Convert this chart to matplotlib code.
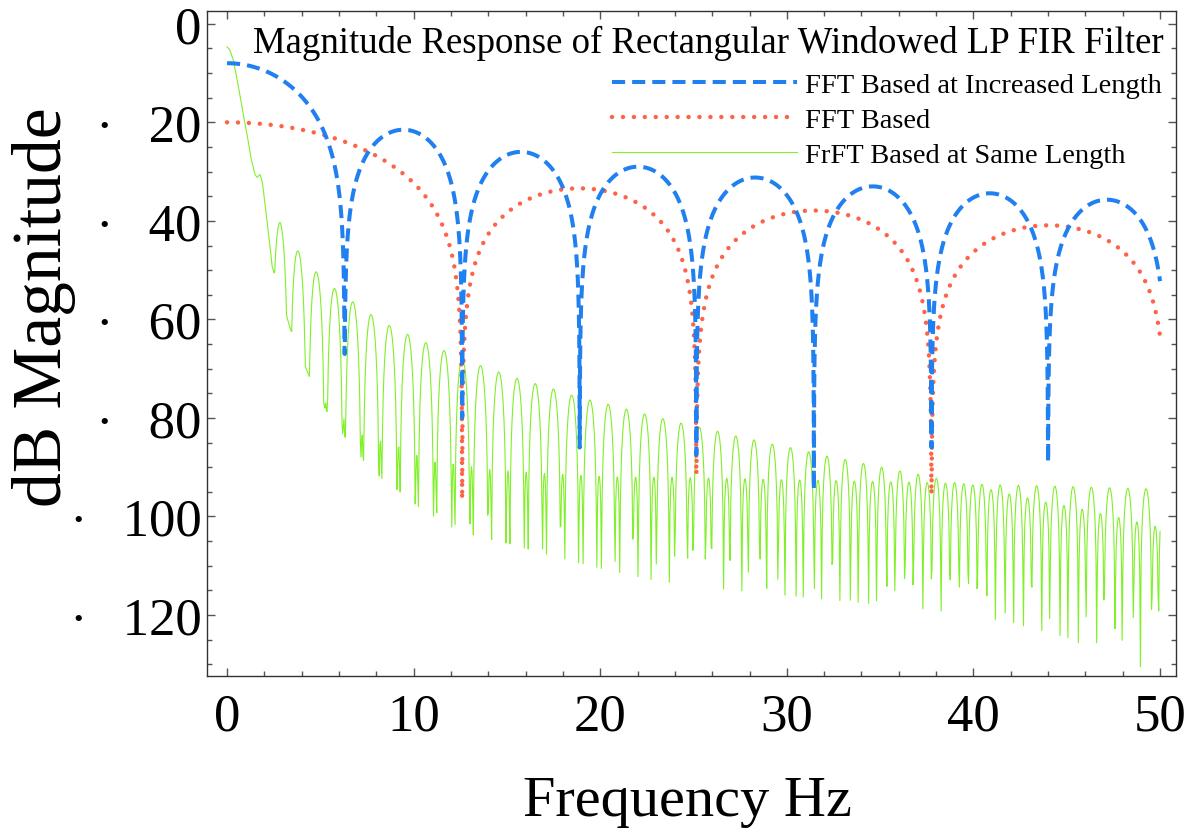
import numpy as np
import matplotlib
matplotlib.use('Agg')
import matplotlib.pyplot as plt
from matplotlib.ticker import MultipleLocator, FuncFormatter

plt.rcParams['font.family'] = ['Liberation Serif', 'DejaVu Serif']

# FFT based, increased length: null frequencies, lobe peaks and null floors (dB)
inc_null_hz = [6.3, 12.6, 18.9, 25.15, 31.45, 37.75, 44.0, 50.3]
inc_peak_db = [-8.0, -21.5, -26.0, -29.0, -31.2, -33.0, -34.4, -35.7]
inc_null_db = [-67.0, -80.0, -86.0, -87.5, -94.5, -86.0, -89.0]

# FFT based, original length
fft_null_hz = [12.6, 25.15, 37.75, 50.3]
fft_peak_db = [-20.0, -33.4, -37.9, -40.9]
fft_null_db = [-96.5, -91.5, -95.5]

# FrFT based, same length: main lobe roll-off
frft_head_hz = [0, 0.15, 0.35, 0.6, 0.85, 1.05, 1.3, 1.5, 1.62, 1.77, 1.9, 2.05, 2.25, 2.4]
frft_head_db = [-4.7, -5.3, -7.5, -12.5, -18.0, -22.0, -27.5, -30.6, -31.2, -30.5, -32.3,
                -37.0, -43.5, -48.5]
# ripple period / offset (Hz)
frft_period = 0.977
frft_offset = -0.088
# tall ripple peaks
frft_main_hz = [2.84, 3.82, 4.80, 5.79, 6.77, 7.75, 8.73, 9.72, 10.70, 11.68, 12.6, 13.6,
                14.6, 15.5, 16.5, 17.4, 18.4, 19.4, 20.4, 21.4, 22.4, 23.3, 24.3, 25.3,
                26.3, 27.2, 28.2, 29.2, 30.2, 31.1, 32.1, 33.1, 34.1, 35.1, 36.0, 37.0,
                38.0, 39.0, 40.0, 41.0, 41.9, 42.9, 43.8, 44.8, 45.8, 46.8, 47.8, 48.8,
                49.7, 50.0]
frft_main_db = [-40.3, -46.2, -50.4, -53.8, -56.5, -59.1, -61.3, -63.1, -64.8, -66.4, -68.0,
                -69.4, -70.7, -71.9, -73.0, -74.0, -75.3, -76.3, -77.2, -78.2, -79.2, -80.1,
                -81.0, -81.9, -82.7, -83.6, -84.4, -85.3, -86.0, -86.8, -87.7, -88.4, -89.2,
                -90.0, -90.7, -91.4, -92.2, -93.1, -93.6, -94.6, -95.4, -96.2, -97.0, -97.7,
                -98.5, -99.4, -100.2, -101.1, -101.9, -102.2]
# small in-between ripple peaks
frft_side_hz = [2.5, 5.0, 7.3, 9.27, 10.2, 11.1, 12.1, 14.0, 16.0, 18.0, 21.0, 25.0, 30.0,
                35.0, 38.5, 41.5, 45.0, 49.5, 50.0]
frft_side_db = [-62.0, -76.0, -83.5, -85.6, -87.3, -88.7, -89.3, -90.4, -91.0, -91.4, -91.9,
                -92.1, -92.5, -92.9, -93.2, -93.6, -93.9, -94.4, -94.4]
# deepest notch levels
frft_floor_hz = [2.4, 3.4, 4.4, 5.37, 6.35, 7.34, 8.32, 9.27, 10.26, 11.24, 12.2, 13.2, 15.2,
                 17.0, 20.0, 23.0, 26.0, 30.0, 34.0, 38.0, 42.0, 45.0, 48.0, 50.0]
frft_floor_db = [-49.0, -62.0, -71.5, -78.8, -84.0, -88.7, -92.4, -95.0, -98.0, -100.3,
                 -102.5, -103.8, -105.6, -107.5, -110.5, -113.0, -114.5, -116.0, -117.5,
                 -119.0, -121.5, -124.5, -130.0, -131.0]


def lobe_curve(f, nulls, peaks, depths):
    out = np.empty_like(f)
    edges = [0.0] + list(nulls)
    for i, pk in enumerate(peaks):
        a, b = edges[i], edges[i + 1]
        sel = (f >= a) & (f <= b)
        if i == 0:
            shape = np.abs(np.sinc(f[sel] / b))
        else:
            shape = np.abs(np.sin(np.pi * (f[sel] - a) / (b - a)))
        out[sel] = pk + 20 * np.log10(np.maximum(shape, 1e-12))
    floor = np.interp(f, nulls[:len(depths)], depths)
    return np.maximum(out, floor)


f = np.linspace(0, 50, 10001)
inc_db = lobe_curve(f, inc_null_hz, inc_peak_db, inc_null_db)
fft_db = lobe_curve(f, fft_null_hz, fft_peak_db, fft_null_db)

fg = np.linspace(0, 50, 1429)
theta = np.pi * (fg - frft_offset) / frft_period
P = 10 ** (np.interp(fg, frft_main_hz, frft_main_db) / 20)
S = 10 ** (np.interp(fg, frft_side_hz, frft_side_db) / 20)
mag = np.abs((P + S) / 2 * np.cos(2 * theta) + (P - S) / 2)
frft_db = 20 * np.log10(np.maximum(mag, 1e-12))
frft_db = np.maximum(frft_db, np.interp(fg, frft_floor_hz, frft_floor_db))
head = fg < frft_head_hz[-1]
frft_db[head] = np.interp(fg[head], frft_head_hz, frft_head_db)

fig = plt.figure(figsize=(11.9, 8.37), dpi=100)
ax = fig.add_axes([0.174, 0.191, 0.8143, 0.7947])

g, = ax.plot(fg, frft_db, color='#80f028', lw=0.8, zorder=2)
r, = ax.plot(f, fft_db, color='#ff6347', lw=3.2, zorder=3,
             linestyle=(0, (0.01, 2.45)), dash_capstyle='round')
b, = ax.plot(f, inc_db, color='#2080f0', lw=2.9, zorder=4,
             linestyle=(0, (3.25, 1.75)))

ax.set_xlim(-1.07, 50.86)
ax.set_ylim(-132.4, 2.6)

ax.xaxis.set_major_locator(MultipleLocator(10))
ax.xaxis.set_minor_locator(MultipleLocator(2))
ax.yaxis.set_major_locator(MultipleLocator(20))
ax.yaxis.set_minor_locator(MultipleLocator(5))


def ylab(v, pos):
    n = int(round(-v))
    return '0' if n == 0 else '\u00b7\u2002\u2006' + str(n)


ax.yaxis.set_major_formatter(FuncFormatter(ylab))
ax.tick_params(which='both', direction='in', top=True, right=True, color='#555555', width=1)
ax.tick_params(which='major', length=6)
ax.tick_params(which='minor', length=3.5)
ax.tick_params(axis='x', labelsize=38, pad=12)
ax.tick_params(axis='y', labelsize=38, pad=4)
for s in ax.spines.values():
    s.set_color('#333333')
    s.set_linewidth(1.0)

ax.set_xlabel('Frequency Hz', fontsize=42)
ax.xaxis.set_label_coords(0.4959, -0.148)
ax.set_ylabel('dB Magnitude', fontsize=50)
ax.yaxis.set_label_coords(-0.135, 0.556)

ax.text(0.5175, 0.938, 'Magnitude Response of Rectangular Windowed LP FIR Filter',
        transform=ax.transAxes, ha='center', va='baseline', fontsize=26.5)

ax.legend([b, r, g], ['FFT Based at Increased Length', 'FFT Based', 'FrFT Based at Same Length'],
          loc='upper left', bbox_to_anchor=(0.418, 0.908), frameon=False, fontsize=20.5,
          handlelength=6.5, handletextpad=0.27, labelspacing=0.32, borderpad=0,
          borderaxespad=0)

fig.savefig('out.png', dpi=100)
